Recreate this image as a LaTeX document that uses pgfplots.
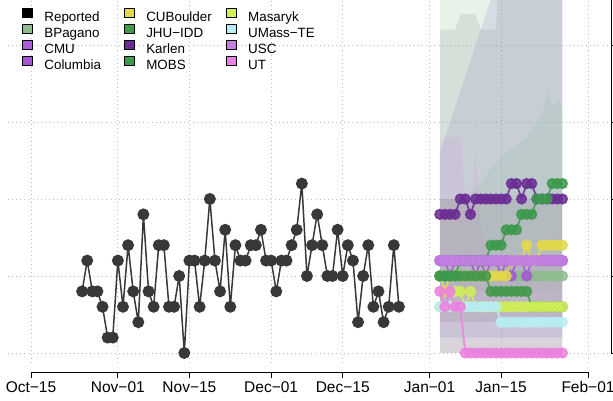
\documentclass[border=0pt]{standalone}
\usepackage{fontspec}
\setmainfont{Liberation Sans}
\usepackage{pgfplots}
\pgfplotsset{compat=1.18}

\definecolor{bpagano}{HTML}{8FBC8F}
\definecolor{cmu}{HTML}{A95CDA}
\definecolor{columbia}{HTML}{A655D6}
\definecolor{cuboulder}{HTML}{E3D94A}
\definecolor{jhuidd}{HTML}{46994B}
\definecolor{karlen}{HTML}{6B2D93}
\definecolor{mobs}{HTML}{3D9A4D}
\definecolor{masaryk}{HTML}{D0EE58}
\definecolor{umasste}{HTML}{B8EEF3}
\definecolor{usc}{HTML}{C27FE2}
\definecolor{ut}{HTML}{EC80E0}
\definecolor{gridc}{HTML}{BEBEBE}
\definecolor{bandblue}{RGB}{115,110,200}
\definecolor{bandmauve}{RGB}{140,125,140}

\pgfplotsset{
  fc/.style={forget plot, line width=1.8pt, opacity=0.85, mark=*, mark size=4.7pt,
    mark options={draw=none, fill=#1}, color=#1},
  band/.style={forget plot, draw=none, fill=#1},
}

\begin{document}
\begin{tikzpicture}[x=1pt,y=1pt]
\begin{axis}[
  at={(8pt,38pt)}, anchor=south west,
  scale only axis, width=603pt, height=363pt,
  xmin=-4.5, xmax=113.5, ymin=-0.65, ymax=22.92,
  axis x line*=bottom, axis y line*=right,
  axis x line shift=9pt,
  x axis line style={draw=none}, y axis line style={draw=none},
  xtick={0,17,31,47,61,78,92,109},
  xticklabels={Oct−15,Nov−01,Nov−15,Dec−01,Dec−15,Jan−01,Jan−15,Feb−01},
  ytick={0,5,10,15,20}, yticklabels={},
  tick align=outside, major tick length=6pt,
  tick style={black, line width=0.8pt},
  grid=major, grid style={gridc, line width=0.9pt, dash pattern=on 0.9pt off 3.2pt},
  ticklabel style={font=\fontsize{15.5}{18}\selectfont},
  legend columns=3,
  legend image code/.code={\fill[#1] (0pt,0pt) rectangle (10pt,9pt);},
  legend style={at={(axis description cs:0.0232,0.9785)}, anchor=north west,
    draw=none, fill=none, inner sep=0pt, outer sep=0pt, row sep=1.4pt,
    font=\fontsize{13.4}{16}\selectfont,
    nodes={inner sep=0pt, text width=66pt, align=left},
    /tikz/every odd column/.append style={column sep=12pt},
    /tikz/every even column/.append style={column sep=13.5pt}},
]
% prediction bands
\addplot[band=mobs, fill opacity=0.12] coordinates {(80,0) (80,40) (104,40) (104,0)} -- cycle;
\addplot[band=gray, fill opacity=0.16] coordinates {(80,0) (80,21) (81,21) (82,21) (83,21) (84,22) (85,22) (86,22) (87,22) (88,21) (89,21) (90,21) (91,21) (92,30) (104,30) (104,0)} -- cycle;
\addplot[band=bandblue, fill opacity=0.16] coordinates {(80,1) (80,13) (81,14) (82,15) (83,16) (84,17) (85,18) (86,19) (87,20) (88,21) (89,22) (90,23) (91,40) (104,40) (104,1)} -- cycle;
\addplot[band=ut, fill opacity=0.12] coordinates {(80,0) (80,14) (84,14) (85,10) (86,9) (87,13) (88,8) (89,7) (90,6) (104,6) (104,0)} -- cycle;
\addplot[band=mobs, fill opacity=0.07] coordinates {(80,4) (80,10) (84,10) (88,11) (90,12) (93,13) (95,13.5) (97,14) (99,15) (100,15.5) (101,17) (102,16) (103,16.5) (104,16) (104,4)} -- cycle;
\addplot[band=bandmauve, fill opacity=0.2] coordinates {(80,2) (80,10) (104,10) (104,2)} -- cycle;

% reported
\addplot[forget plot, color=black!78, line width=1.5pt, mark=*, mark size=5.2pt,
  mark options={draw=none, fill=black!78}] coordinates {
(10,4) (11,6) (12,4) (13,4) (14,3) (15,1) (16,1) (17,6) (18,3) (19,7) (20,4) (21,2)
(22,9) (23,4) (24,3) (25,7) (26,7) (27,3) (28,3) (29,5) (30,0) (31,6) (32,6) (33,3)
(34,6) (35,10) (36,6) (37,4) (38,8) (39,3) (40,7) (41,6) (42,6) (43,7) (44,7) (45,8)
(46,6) (47,6) (48,4) (49,6) (50,6) (51,7) (52,8) (53,11) (54,5) (55,7) (56,9) (57,7)
(58,5) (59,5) (60,8) (61,5) (62,7) (63,6) (64,2) (65,5) (66,7) (67,3) (68,4) (69,2)
(70,3) (71,7) (72,3)};

% model forecasts
\addplot[fc=bpagano] coordinates {(80,5) (81,5) (82,5) (83,5) (84,5) (85,5) (86,5) (87,5) (88,5) (89,5) (90,5) (91,5) (92,5) (93,5) (94,5) (95,5) (96,5) (97,5) (98,5) (99,5) (100,5) (101,5) (102,5) (103,5) (104,5)};
\addplot[fc=cmu] coordinates {(80,6) (81,6) (82,6) (83,6) (84,6) (85,6) (86,6) (87,6) (88,6) (89,6) (90,6) (91,6) (92,6) (93,6) (94,6) (95,6) (96,6) (97,6) (98,6) (99,6) (100,6) (101,6) (102,6) (103,6) (104,6)};
\addplot[fc=columbia] coordinates {(80,6) (81,6) (82,5) (83,6) (84,6) (85,6) (86,6) (87,5) (88,6) (89,5) (90,6) (91,6) (92,5) (93,6) (94,5) (95,6) (96,6) (97,5) (98,6) (99,6) (100,6) (101,6) (102,6) (103,6) (104,6)};
\addplot[fc=cuboulder] coordinates {(80,5) (81,4) (82,5) (83,5) (84,5) (85,5) (86,5) (87,5) (88,5) (89,5) (90,5) (91,5) (92,5) (93,5) (94,6) (95,6) (96,6) (97,7) (98,6) (99,6) (100,7) (101,7) (102,7) (103,7) (104,7)};
\addplot[fc=jhuidd] coordinates {(80,5) (81,5) (82,5) (83,5) (84,5) (85,5) (86,5) (87,5) (88,5) (89,5) (90,4) (91,4) (92,4) (93,4) (94,4) (95,4) (96,4) (97,4) (98,3) (99,3) (100,3) (101,3) (102,3) (103,3) (104,3)};
\addplot[fc=karlen] coordinates {(80,9) (81,9) (82,9) (83,9) (84,10) (85,10) (86,9) (87,10) (88,10) (89,10) (90,10) (91,10) (92,10) (93,10) (94,11) (95,11) (96,10) (97,11) (98,11) (99,10) (100,10) (101,10) (102,10) (103,10) (104,10)};
\addplot[fc=masaryk] coordinates {(80,3) (81,3) (82,3) (83,4) (84,4) (85,3) (86,4) (87,3) (88,3) (89,3) (90,3) (91,3) (92,3) (93,3) (94,3) (95,3) (96,3) (97,3) (98,3) (99,3) (100,3) (101,3) (102,3) (103,3) (104,3)};
\addplot[fc=mobs] coordinates {(80,5) (81,5) (82,5) (83,5) (84,6) (85,6) (86,6) (87,6) (88,6) (89,6) (90,7) (91,7) (92,7) (93,8) (94,8) (95,8) (96,9) (97,9) (98,9) (99,10) (100,10) (101,10) (102,11) (103,11) (104,11)};
\addplot[fc=umasste] coordinates {(80,3) (81,3) (82,3) (83,3) (84,3) (85,3) (86,3) (87,3) (88,3) (89,3) (90,3) (91,3) (92,2) (93,2) (94,2) (95,2) (96,2) (97,2) (98,2) (99,2) (100,2) (101,2) (102,2) (103,2) (104,2)};
\addplot[fc=usc] coordinates {(80,6) (81,6) (82,6) (83,6) (84,6) (85,6) (86,6) (87,6) (88,6) (89,6) (90,6) (91,6) (92,6) (93,6) (94,6) (95,6) (96,6) (97,6) (98,6) (99,6) (100,6) (101,6) (102,6) (103,6) (104,6)};
\addplot[fc=ut] coordinates {(80,4) (81,3) (82,4) (83,3) (84,3) (85,0) (86,0) (87,0) (88,0) (89,0) (90,0) (91,0) (92,0) (93,0) (94,0) (95,0) (96,0) (97,0) (98,0) (99,0) (100,0) (101,0) (102,0) (103,0) (104,0)};

% legend (row-major order for a column-major look)
\addlegendimage{fill=black}\addlegendentry{Reported}
\addlegendimage{fill=cuboulder}\addlegendentry{CUBoulder}
\addlegendimage{fill=masaryk}\addlegendentry{Masaryk}
\addlegendimage{fill=bpagano}\addlegendentry{BPagano}
\addlegendimage{fill=jhuidd}\addlegendentry{JHU−IDD}
\addlegendimage{fill=umasste}\addlegendentry{UMass−TE}
\addlegendimage{fill=cmu}\addlegendentry{CMU}
\addlegendimage{fill=karlen}\addlegendentry{Karlen}
\addlegendimage{fill=usc}\addlegendentry{USC}
\addlegendimage{fill=columbia}\addlegendentry{Columbia}
\addlegendimage{fill=mobs}\addlegendentry{MOBS}
\addlegendimage{fill=ut}\addlegendentry{UT}

\coordinate (xa) at (axis cs:0,-0.65);
\coordinate (xb) at (axis cs:109,-0.65);
\coordinate (ya) at (axis cs:113.5,0);
\coordinate (yb) at (axis cs:113.5,22.92);
\end{axis}
\draw[black, line width=0.8pt] ([yshift=-9pt]xa) -- ([yshift=-9pt]xb);
\draw[black, line width=0.8pt] (ya) -- (yb);
\pgfresetboundingbox
\path[use as bounding box] (0,0) rectangle (613,401);
\end{tikzpicture}
\end{document}
